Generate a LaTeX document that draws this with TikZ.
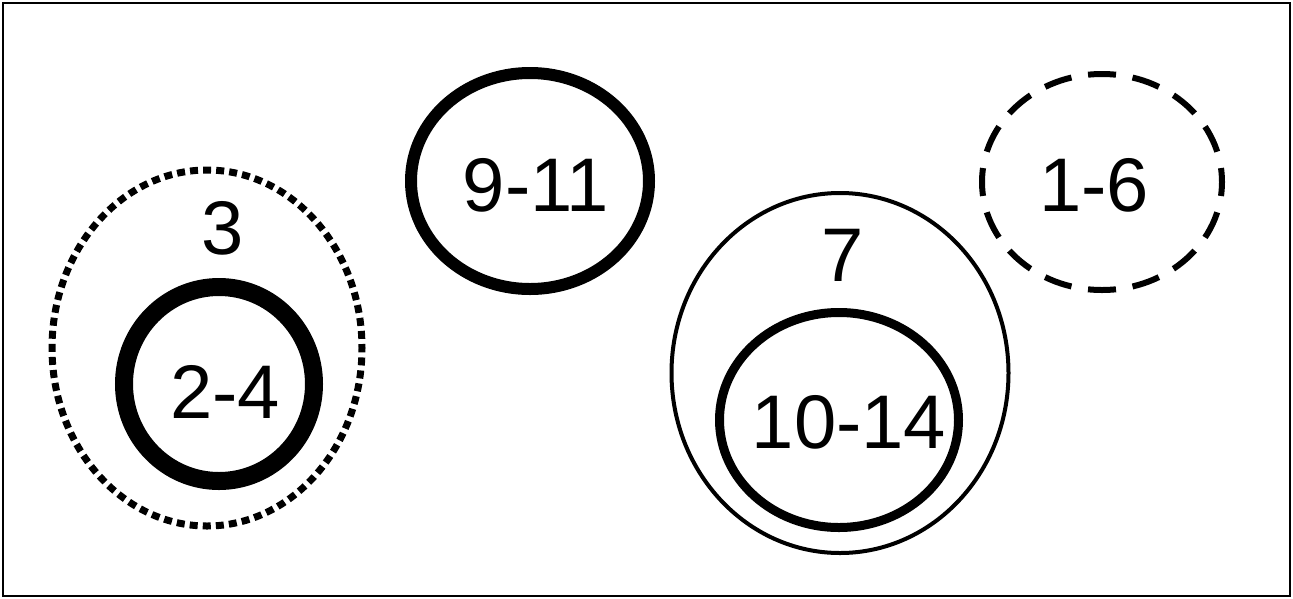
\documentclass[tikz,border=0pt]{standalone}
\usepackage{fontspec}
\setmainfont{Liberation Sans}
\usetikzlibrary{shapes.geometric}
\begin{document}
\begin{tikzpicture}[x=1pt,y=-1pt,
  ring/.style={draw=black,shape=ellipse,inner sep=0pt,outer sep=0pt},
  lbl/.style={font=\fontsize{76}{82}\selectfont,inner sep=0pt,anchor=center}]
\useasboundingbox (0,0) rectangle (1293,598);
\fill[white] (0,0) rectangle (1293,598);
\node[draw=black,line width=2pt,minimum width=1287pt,minimum height=593pt,inner sep=0pt] (frame) at (646.5,299.5) {};
% left group
\node[ring,line width=7pt,dash pattern=on 8pt off 5.09pt,dash phase=4pt,minimum width=310pt,minimum height=356pt] (e3) at (207,348) {};
\node[ring,line width=18pt,minimum width=190pt,minimum height=194pt] (e24) at (219,384) {};
\node[lbl] (t3) at (223,228) {3};
\node[lbl] (t24) at (225,392) {2-4};
% 9-11
\node[ring,line width=12pt,minimum width=238pt,minimum height=216pt] (e911) at (530,181) {};
\node[lbl] (t911) at (536,185) {9-11};
% 7 group
\node[ring,line width=4pt,minimum width=337pt,minimum height=360pt] (e7) at (840,373) {};
\node[ring,line width=9pt,minimum width=239pt,minimum height=215pt] (e1014) at (839,420) {};
\node[lbl] (t7) at (843,255) {7};
\node[lbl] (t1014) at (849,422) {10-14};
% 1-6
\node[ring,line width=6pt,dash pattern=on 28pt off 16.8pt,dash phase=14pt,minimum width=240pt,minimum height=216pt] (e16) at (1102,182) {};
\node[lbl] (t16) at (1094,185) {1-6};
\end{tikzpicture}
\end{document}
